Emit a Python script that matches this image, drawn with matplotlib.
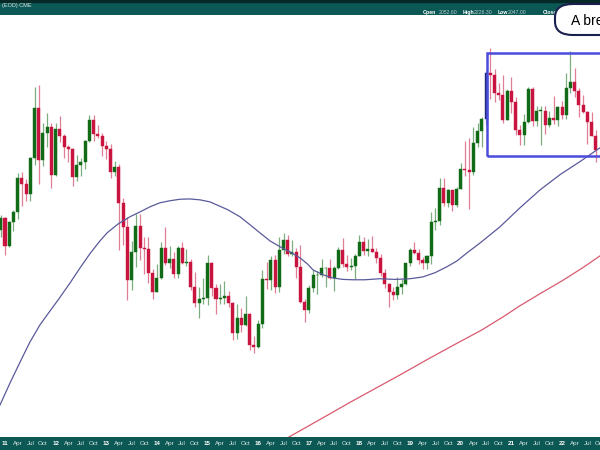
import numpy as np
import matplotlib
matplotlib.use('Agg')
import matplotlib.pyplot as plt
from matplotlib.patches import Rectangle, FancyBboxPatch

# monthly bars, Dec 2010 .. Sep 2022 (month index 0 = Jan 2011)
first_month = -1

opens = [1384,
         1421, 1332, 1409, 1439, 1556, 1536, 1500, 1628, 1826, 1620, 1722, 1746,
         1566, 1740, 1711, 1669, 1664, 1561, 1604, 1615, 1692, 1774, 1719, 1714,
         1675, 1663, 1578, 1597, 1472, 1393, 1234, 1314, 1396, 1327, 1323, 1253,
         1202, 1240, 1326, 1284, 1296, 1250, 1327, 1282, 1287, 1216, 1172, 1183,
         1184, 1283, 1213, 1183, 1184, 1190, 1172, 1095, 1133, 1115, 1142, 1065,
         1060, 1118, 1238, 1235, 1292, 1215, 1321, 1351, 1309, 1316, 1272, 1173,
         1152, 1211, 1248, 1249, 1268, 1268, 1241, 1269, 1322, 1280, 1271, 1275,
         1303, 1345, 1318, 1325, 1315, 1298, 1253, 1224, 1201, 1192, 1215, 1222,
         1282, 1321, 1313, 1292, 1284, 1305, 1409, 1413, 1520, 1472, 1513, 1464,
         1517, 1589, 1585, 1577, 1687, 1730, 1781, 1975, 1968, 1886, 1878, 1777,
         1895, 1850, 1734, 1715, 1768, 1905, 1771, 1814, 1814, 1757, 1784, 1776,
         1829, 1796, 1909, 1937, 1897, 1837, 1807, 1766, 1711]
highs = [1431,
         1424, 1411, 1447, 1575, 1577, 1553, 1632, 1913, 1923, 1764, 1803, 1764,
         1764, 1792, 1720, 1677, 1667, 1641, 1628, 1695, 1795, 1796, 1755, 1723,
         1694, 1681, 1616, 1605, 1488, 1424, 1348, 1434, 1434, 1362, 1361, 1267,
         1280, 1345, 1392, 1332, 1315, 1332, 1346, 1324, 1295, 1256, 1214, 1239,
         1307, 1287, 1223, 1224, 1232, 1205, 1175, 1170, 1157, 1191, 1144, 1088,
         1128, 1263, 1287, 1304, 1306, 1362, 1375, 1367, 1352, 1326, 1337, 1181,
         1220, 1264, 1261, 1296, 1270, 1296, 1274, 1331, 1358, 1306, 1299, 1309,
         1366, 1361, 1356, 1365, 1326, 1309, 1265, 1225, 1214, 1243, 1237, 1284,
         1326, 1347, 1324, 1302, 1306, 1439, 1453, 1555, 1557, 1518, 1516, 1524,
         1611, 1691, 1704, 1747, 1765, 1789, 1984, 2089, 1992, 1933, 1965, 1907,
         1959, 1871, 1755, 1798, 1913, 1916, 1833, 1832, 1835, 1814, 1877, 1831,
         1853, 1976, 2078, 1998, 1910, 1879, 1814, 1808, 1735]
lows = [1360,
        1308, 1330, 1381, 1419, 1462, 1478, 1478, 1603, 1535, 1600, 1670, 1523,
        1564, 1690, 1627, 1613, 1527, 1547, 1565, 1588, 1688, 1692, 1705, 1636,
        1626, 1555, 1565, 1321, 1338, 1180, 1208, 1271, 1292, 1251, 1227, 1181,
        1200, 1238, 1277, 1268, 1241, 1240, 1281, 1273, 1207, 1161, 1131, 1170,
        1167, 1190, 1142, 1170, 1170, 1162, 1077, 1080, 1098, 1113, 1052, 1046,
        1058, 1108, 1209, 1207, 1199, 1200, 1310, 1304, 1304, 1241, 1171, 1122,
        1145, 1200, 1195, 1243, 1214, 1236, 1204, 1267, 1271, 1260, 1264, 1236,
        1303, 1307, 1303, 1315, 1282, 1245, 1211, 1160, 1180, 1182, 1196, 1221,
        1275, 1310, 1281, 1266, 1267, 1281, 1382, 1400, 1459, 1458, 1445, 1458,
        1517, 1563, 1451, 1568, 1670, 1671, 1757, 1863, 1848, 1860, 1764, 1775,
        1802, 1717, 1677, 1679, 1765, 1750, 1751, 1678, 1721, 1746, 1759, 1753,
        1781, 1780, 1890, 1872, 1786, 1805, 1681, 1711, 1615]
closes = [1421,
          1332, 1409, 1439, 1556, 1536, 1500, 1628, 1826, 1620, 1722, 1746, 1566,
          1740, 1711, 1669, 1664, 1561, 1604, 1615, 1692, 1774, 1719, 1714, 1675,
          1663, 1578, 1597, 1472, 1393, 1234, 1314, 1396, 1327, 1323, 1253, 1202,
          1240, 1326, 1284, 1296, 1250, 1327, 1282, 1287, 1216, 1172, 1183, 1184,
          1283, 1213, 1183, 1184, 1190, 1172, 1095, 1133, 1115, 1142, 1065, 1060,
          1118, 1238, 1235, 1292, 1215, 1321, 1351, 1309, 1316, 1272, 1173, 1152,
          1211, 1248, 1249, 1268, 1268, 1241, 1269, 1322, 1280, 1271, 1275, 1303,
          1345, 1318, 1325, 1315, 1298, 1253, 1224, 1201, 1192, 1215, 1222, 1282,
          1321, 1313, 1292, 1284, 1305, 1409, 1413, 1520, 1472, 1513, 1464, 1517,
          1589, 1585, 1577, 1687, 1730, 1781, 1975, 1968, 1886, 1878, 1777, 1895,
          1850, 1734, 1715, 1768, 1905, 1771, 1814, 1814, 1757, 1784, 1776, 1829,
          1796, 1909, 1937, 1897, 1837, 1807, 1766, 1711, 1660]
highlight_month = 114   # Jul 2020 bar drawn in navy

# moving averages (month index, price)
ma_blue_month = [-1.2, 1.2, 3.6, 5.9, 8.3, 10.7, 12.6, 15.4, 17.8, 20.1,
                 22.5, 24.2, 26.8, 29.6, 32.0, 34.4, 36.7, 39.1, 41.5, 43.8,
                 46.2, 48.6, 50.2, 52.8, 55.7, 58.1, 60.4, 62.8, 65.2, 67.5,
                 69.9, 71.6, 73.0, 75.4, 77.7, 80.1, 82.5, 85.3, 88.9, 92.4,
                 96.0, 99.0, 101.9, 104.7, 107.1, 109.5, 112.6, 117.3, 122.0, 126.8,
                 131.5, 136.3, 141.0]
ma_blue = [929, 977, 1025, 1072, 1115, 1151, 1180, 1226, 1269, 1310,
           1349, 1374, 1402, 1425, 1441, 1458, 1471, 1478, 1483, 1484,
           1481, 1474, 1464, 1448, 1425, 1399, 1374, 1349, 1331, 1316,
           1298, 1281, 1263, 1249, 1240, 1236, 1235, 1235, 1238, 1236,
           1238, 1243, 1255, 1272, 1289, 1313, 1343, 1393, 1454, 1515,
           1568, 1616, 1667]
ma_red_month = [60, 66, 74, 82, 88, 94, 100, 106, 113, 118, 122, 127, 132, 137, 141]
ma_red = [830, 858, 896, 936, 966, 997, 1030, 1063, 1102, 1135, 1164, 1198, 1232, 1270, 1304]

# range box (Jul 2020 onwards)
box_start, box_low, box_high = 114.2, 1637, 2069

year_labels = ['11', '12', '13', '14', '15', '16', '17', '18', '19', '20', '21', '22']
month_labels = ['Apr', 'Jul', 'Oct']

teal = '#0c5855'
green = '#106a16'
red = '#c8143f'
navy = '#1c2c78'
font = ['Liberation Sans', 'DejaVu Sans']

fig = plt.figure(figsize=(6, 4.5), dpi=100)
ax = fig.add_axes([0, 13/450, 1, 422/450])
xmin, xmax = -5/4.22, 595/4.22

n = len(opens)
months = np.arange(n) + first_month
o = np.array(opens, float); c = np.array(closes, float)
h = np.maximum(np.array(highs, float), np.maximum(o, c))
l = np.minimum(np.array(lows, float), np.minimum(o, c))
cols = [green if cc >= oo else red for oo, cc in zip(o, c)]
cols = [navy if m == highlight_month else col for m, col in zip(months, cols)]

ax.vlines(months, l, h, colors=cols, linewidth=0.9, alpha=0.55, zorder=2)
bottoms = np.minimum(o, c)
heights = np.maximum(np.abs(c - o), 1.5)
ax.bar(months, heights, bottom=bottoms, width=0.72, color=cols,
       edgecolor=cols, linewidth=0.3, zorder=3)

ax.plot(ma_blue_month, ma_blue, color='#5a5a9c', linewidth=0.9, zorder=4)
ax.plot(ma_red_month, ma_red, color='#d85a6e', linewidth=0.9, zorder=4)

ax.add_patch(Rectangle((box_start, box_low), 60, box_high - box_low, fill=False,
                       edgecolor='#4b4bdc', linewidth=1.8, zorder=5))

ax.set_yscale('log')
ax.set_ylim(864, 2254)
ax.set_xlim(xmin, xmax)
ax.set_axis_off()

# header bar
top = fig.add_axes([0, 435/450, 1, 15/450])
top.set_facecolor(teal)
top.set_xlim(0, 600); top.set_ylim(15, 0)
top.set_xticks([]); top.set_yticks([])
for s in top.spines.values():
    s.set_visible(False)
top.axhspan(0, 2, color='#062826')
top.text(2, 5.5, '(EOD) CME', color='#dfe8e8', fontsize=4, va='center', family=font)
hdr = [(423, 'Open', True), (439, '2052.60', False), (463, 'High', True),
       (474, '2226.30', False), (498, 'Low', True), (508, '2047.00', False),
       (543, 'Close', True), (557, '2', False)]
for xx, t, b in hdr:
    top.text(xx, 12.3, t, color='white' if b else '#b8cccc', fontsize=3.7,
             fontweight='bold' if b else 'normal', va='center', family=font)

# bottom date bar
bot = fig.add_axes([0, 0, 1, 13/450])
bot.set_facecolor(teal)
bot.set_xlim(xmin, xmax); bot.set_ylim(0, 1)
bot.set_xticks([]); bot.set_yticks([])
for s in bot.spines.values():
    s.set_visible(False)
for i, yl in enumerate(year_labels):
    m0 = 12 * i
    bot.text(m0, 0.5, yl, color='white', fontsize=4.5, fontweight='bold',
             ha='center', va='center', family=font)
    for k, ml in enumerate(month_labels):
        bot.text(m0 + 3 * (k + 1), 0.5, ml, color='#dce8e8', fontsize=4.5,
                 ha='center', va='center', family=font)

# callout box (cut by the right edge)
fig.patches.append(FancyBboxPatch((555/600, 415/450), 80/600, 31/450,
                                  boxstyle='round,pad=0,rounding_size=0.03',
                                  transform=fig.transFigure, facecolor='white',
                                  edgecolor='#1a1f4d', linewidth=1.5, zorder=10))
fig.text(571/600, 429/450, 'A breakout', fontsize=10, color='black',
         va='center', ha='left', zorder=11, family=font)

fig.savefig('out.png', dpi=100)
